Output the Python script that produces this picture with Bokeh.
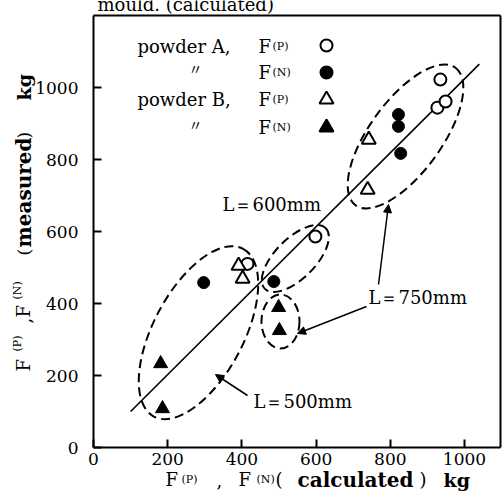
from bokeh.plotting import figure
from bokeh.models import (Label, Arrow, NormalHead, ColumnDataSource, Range1d,
                          FixedTicker, LinearAxis)
from bokeh.embed import file_html
from bokeh.resources import INLINE

# ---------------- data ----------------
ticks = [0, 200, 400, 600, 800, 1000]
x_max, y_max = 1097, 1200                  # plotted box

a_p_calc = [935, 927, 949, 598, 415]       # powder A, F(P)  open circles
a_p_meas = [1022, 944, 961, 586, 510]
a_n_calc = [822, 822, 828, 297, 486]       # powder A, F(N)  filled circles
a_n_meas = [925, 892, 817, 458, 461]
b_p_calc = [742, 739, 391, 402]            # powder B, F(P)  open triangles
b_p_meas = [855, 716, 505, 469]
b_n_calc = [181, 186, 499, 501]            # powder B, F(N)  filled triangles
b_n_meas = [233, 108, 389, 325]

line_calc = [100, 1040]                    # reference line
line_meas = [100, 1065]

# groups (dashed ellipses): centre in data units
grp_calc = [283, 544, 504, 841]
grp_meas = [319, 525, 350, 864]

# ---------------- layout ----------------
W, H = 502, 496
FX0, FY0 = 93, 447            # where (0, 0) sits on the canvas
KX, KY = 0.371, 0.36          # pixels per kg
SHIFT = 6                     # label baseline correction


def dx(sx):
    return (sx - FX0) / KX


def dy(sy):
    return (FY0 - sy) / KY


SERIF = "DejaVu Serif"

p = figure(width=W, height=H, output_backend="svg", toolbar_location=None,
           x_range=Range1d(dx(0), dx(W)), y_range=Range1d(dy(H), dy(0)),
           x_axis_location=None, y_axis_location=None,
           min_border=0, min_border_left=0, min_border_right=0,
           min_border_top=0, min_border_bottom=0)
p.xgrid.visible = False
p.ygrid.visible = False
p.background_fill_color = "white"
p.border_fill_color = "white"
p.outline_line_color = None


def make_axis(loc, bounds, with_ticks):
    ax = LinearAxis(fixed_location=loc, bounds=bounds,
                    ticker=FixedTicker(ticks=ticks if with_ticks else []))
    ax.minor_tick_line_color = None
    ax.major_tick_in = 8
    ax.major_tick_out = 0
    ax.major_tick_line_width = 2
    ax.major_tick_line_color = "black"
    ax.axis_line_width = 2
    ax.axis_line_color = "black"
    ax.major_label_text_font = SERIF
    ax.major_label_text_font_size = "17px"
    ax.major_label_text_color = "black"
    return ax


xa = make_axis(0, (0, x_max), True)
xa.major_label_standoff = 5
p.add_layout(xa, "below")
ya = make_axis(0, (0, y_max), True)
ya.major_label_standoff = 15
p.add_layout(ya, "left")
p.add_layout(make_axis(x_max, (0, y_max), False), "right")
p.add_layout(make_axis(y_max, (0, x_max), False), "above")

# ---------------- marks ----------------
p.line(line_calc, line_meas, line_color="black", line_width=1.6)

ell = ColumnDataSource(dict(x=grp_calc, y=grp_meas,
                            w=[190, 86, 38, 170], h=[90, 40, 54, 72], a=[62, 45, 0, 54]))
p.ellipse(x="x", y="y", width="w", height="h", angle="a", source=ell,
          angle_units="deg", width_units="screen", height_units="screen",
          fill_color=None, line_color="black", line_width=2, line_dash="9 5")

p.scatter(a_p_calc, a_p_meas, marker="circle", size=12, fill_color="white",
          line_color="black", line_width=2)
p.scatter(a_n_calc, a_n_meas, marker="circle", size=12, fill_color="black",
          line_color="black", line_width=1)
p.scatter(b_p_calc, b_p_meas, marker="triangle", size=14, fill_color="white",
          line_color="black", line_width=2)
p.scatter(b_n_calc, b_n_meas, marker="triangle", size=14, fill_color="black",
          line_color="black", line_width=1)


def txt(sx, sy, s, size="18px", angle=0, font=SERIF, baseline="alphabetic",
        align="left", style="normal"):
    if angle == 90:
        sx -= SHIFT
    else:
        sy -= SHIFT
    p.add_layout(Label(x=dx(sx), y=dy(sy), text=s, text_font=font, text_font_size=size,
                       text_color="black", text_align=align, text_baseline=baseline,
                       text_font_style=style, angle=angle, angle_units="deg"))


# cut-off caption at the very top
txt(97, 10, "mould. (calculated)")

# legend
leg_y = [52, 78, 105, 133]
txt(137, leg_y[0], "powder A,")
txt(188, 73, "〃", "14px", font="Noto Sans CJK JP", baseline="middle")
txt(137, leg_y[2], "powder B,")
txt(188, 129, "〃", "14px", font="Noto Sans CJK JP", baseline="middle")
for yy, sub in zip(leg_y, ["(P)", "(N)", "(P)", "(N)"]):
    txt(258, yy, "F")
    txt(272, yy, sub, "11px")
p.scatter([dx(326)] * 2, [dy(45), dy(72)], marker="circle", size=12,
          fill_color=["white", "black"], line_color="black", line_width=2)
p.scatter([dx(326)] * 2, [dy(99), dy(127)], marker="triangle", size=14,
          fill_color=["white", "black"], line_color="black", line_width=2)

# group labels and arrows
txt(222, 210, "L＝600mm")
txt(368, 303, "L＝750mm")
txt(253, 407, "L＝500mm")
for (x0, y0, x1, y1) in [(247, 395, 215, 374), (378, 284, 388, 204), (366, 306, 297, 333)]:
    p.add_layout(Arrow(x_start=dx(x0), y_start=dy(y0), x_end=dx(x1), y_end=dy(y1),
                       line_color="black", line_width=1.5,
                       end=NormalHead(size=8, fill_color="black", line_color="black")))

# x-axis title
bx = 485
txt(165, bx, "F")
txt(181, bx, "(P)", "11px")
txt(216, bx, ",")
txt(238, bx, "F")
txt(256, bx, "(N)", "11px")
txt(275, bx, "(", "18px")
txt(355, bx, "calculated", "20px", align="center", style="bold")
txt(419, bx, ")", "18px")
txt(443, bx, "kg", "19px", style="bold")

# y-axis title (rotated)
by = 29
txt(by, 371, "F", angle=90)
txt(by - 6, 351, "(P)", "11px", angle=90)
txt(by, 323, ",", angle=90)
txt(by, 317, "F", angle=90)
txt(by - 6, 299, "(N)", "11px", angle=90)
txt(by, 255, "(", "17px", angle=90)
txt(by, 192, "measured", "20px", angle=90, align="center", style="bold")
txt(by, 138, ")", "17px", angle=90)
txt(by, 100, "kg", "19px", angle=90, style="bold")

open("out.html", "w").write(file_html(p, INLINE))
